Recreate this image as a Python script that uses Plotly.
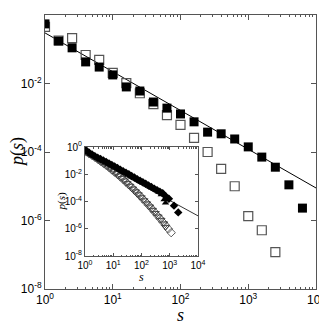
import plotly.graph_objects as go

# main panel: log-binned s, filled and open squares
s_main = [1, 1.585, 2.512, 3.981, 6.31, 10, 15.85, 25.12, 39.81, 63.1,
          100, 158.5, 251.2, 398.1, 631, 1000, 1585, 2512, 3981, 6310]
p_filled = [0.55, 0.174, 0.11, 0.0427, 0.0302, 0.0178, 0.00794, 0.00603, 0.00288, 0.00191,
            0.00129, 7.6e-4, 3.8e-4, 3.4e-4, 2.4e-4, 1.41e-4, 7.1e-5, 3.6e-5, 1.1e-5, 2.3e-6]
p_open = [0.45, 0.18, 0.21, 0.068, 0.049, 0.0204, 0.0102, 0.0052, 0.0025, 0.0012,
          6.2e-4, 2.6e-4, 1.0e-4, 3.2e-5, 1.0e-5, 1.35e-6, 5.2e-7, 1.2e-7]

# power-law guide line (endpoints)
s_line = [1, 10000]
p_line = [0.3, 8.9e-6]

# inset series
s_tri = [1, 1.26, 1.58, 2, 2.51, 3.16, 3.98, 5.01, 6.31, 7.94, 10, 12.6, 15.8, 20, 25.1,
         31.6, 39.8, 50.1, 63.1, 79.4, 100, 126, 158, 200, 251, 316, 398, 501, 631, 708]
p_tri_filled = [0.76, 0.45, 0.32, 0.24, 0.19, 0.14, 0.112, 0.089, 0.071, 0.054, 0.042, 0.032,
                0.025, 0.019, 0.014, 0.0112, 0.0085, 0.0063, 0.005, 0.0038, 0.0028, 0.0022,
                0.00166, 0.00126, 0.001, 7.1e-4, 5.2e-4, 3.2e-4, 1.4e-4, 7.9e-5]
s_dia = [1.12, 1.41, 1.78, 2.24, 2.82, 3.55, 4.47, 5.62, 7.08, 8.91, 11.2, 14.1, 17.8, 22.4,
         28.2, 35.5, 44.7, 56.2, 70.8, 89.1, 112, 141, 178, 224, 282, 355, 447, 562,
         708, 933, 1413, 1995]
p_dia_filled = [0.56, 0.38, 0.28, 0.21, 0.166, 0.132, 0.105, 0.079, 0.063, 0.048, 0.037, 0.0295,
                0.0219, 0.0166, 0.0132, 0.01, 0.0076, 0.0058, 0.0044, 0.0034, 0.0026, 0.002,
                0.0015, 0.00117, 8.9e-4, 6.9e-4, 5.2e-4, 4.0e-4, 2.5e-4, 1.6e-4, 5.0e-5, 1.6e-5]
p_tri_open = [0.5, 0.38, 0.28, 0.21, 0.15, 0.11, 0.078, 0.055, 0.038, 0.026, 0.018, 0.012,
              0.0079, 0.0053, 0.0034, 0.0022, 0.0014, 8.7e-4, 5.4e-4, 3.3e-4, 2.0e-4, 1.2e-4,
              7.1e-5, 4.2e-5, 2.4e-5, 1.4e-5, 7.8e-6, 4.4e-6, 2.4e-6, 1.3e-6]
s_dia_open = [1.12, 1.41, 1.78, 2.24, 2.82, 3.55, 4.47, 5.62, 7.08, 8.91, 11.2, 14.1, 17.8,
              22.4, 28.2, 35.5, 44.7, 56.2, 70.8, 89.1, 112, 141, 178, 224, 282, 355, 447,
              562, 708, 891, 1122]
p_dia_open = [0.44, 0.32, 0.24, 0.178, 0.129, 0.091, 0.065, 0.046, 0.032, 0.021, 0.0145, 0.0098,
              0.0065, 0.0042, 0.0027, 0.0017, 0.0011, 6.8e-4, 4.2e-4, 2.6e-4, 1.55e-4, 9.3e-5,
              5.4e-5, 3.2e-5, 1.8e-5, 1.0e-5, 5.8e-6, 3.2e-6, 1.8e-6, 9.8e-7, 5.2e-7]

x_ticks = [1, 10, 100, 1000, 10000]
x_ticktext = ['10<sup>0</sup>', '10<sup>1</sup>', '10<sup>2</sup>', '10<sup>3</sup>', '10<sup>4</sup>']
y_ticks = [1, 1e-2, 1e-4, 1e-6, 1e-8]
y_ticktext = ['10<sup>0</sup>', '10<sup>-2</sup>', '10<sup>-4</sup>', '10<sup>-6</sup>', '10<sup>-8</sup>']
x_minor = [m * 10 ** k for k in range(4) for m in range(2, 10)]

fig = go.Figure()

fig.add_trace(go.Scatter(x=s_line, y=p_line, mode='lines', line=dict(color='black', width=1)))
fig.add_trace(go.Scatter(x=s_main[:len(p_open)], y=p_open, mode='markers',
                         marker=dict(symbol='square-open', size=9, color='#555',
                                     line=dict(width=1.2, color='#555'))))
fig.add_trace(go.Scatter(x=s_main, y=p_filled, mode='markers',
                         marker=dict(symbol='square', size=9, color='black')))

# inset
fig.add_trace(go.Scatter(x=s_line, y=p_line, mode='lines', line=dict(color='black', width=0.8),
                         xaxis='x2', yaxis='y2'))
fig.add_trace(go.Scatter(x=s_tri, y=p_tri_open, mode='markers', xaxis='x2', yaxis='y2',
                         marker=dict(symbol='triangle-down-open', size=6.5, color='#333',
                                     line=dict(width=0.8, color='#333'))))
fig.add_trace(go.Scatter(x=s_dia_open, y=p_dia_open, mode='markers', xaxis='x2', yaxis='y2',
                         marker=dict(symbol='diamond-open', size=6.5, color='#333',
                                     line=dict(width=0.8, color='#333'))))
fig.add_trace(go.Scatter(x=s_tri, y=p_tri_filled, mode='markers', xaxis='x2', yaxis='y2',
                         marker=dict(symbol='triangle-up', size=6.5, color='black')))
fig.add_trace(go.Scatter(x=s_dia, y=p_dia_filled, mode='markers', xaxis='x2', yaxis='y2',
                         marker=dict(symbol='diamond', size=6.5, color='black')))

axis_common = dict(type='log', showline=True, linecolor='#555', linewidth=1, mirror='allticks',
                   ticks='inside', tickcolor='#555', showgrid=False, zeroline=False,
                   automargin=False)

serif = 'Liberation Serif, serif'

# page body has an 8px margin, so the margins are shifted to land where the reference has them
fig.update_layout(
    width=327, height=327,
    margin=dict(l=37, r=19, t=7, b=46),
    paper_bgcolor='white', plot_bgcolor='white',
    showlegend=False,
    font=dict(family='Liberation Sans, Arial, sans-serif', color='black', size=12),
    xaxis=dict(axis_common, range=[0, 4], tickvals=x_ticks, ticktext=x_ticktext, ticklen=5,
               minor=dict(ticks='inside', ticklen=2, tickvals=x_minor, tickcolor='#555')),
    yaxis=dict(axis_common, range=[-8, 0], tickvals=y_ticks, ticktext=y_ticktext, ticklen=5),
    xaxis2=dict(axis_common, range=[0, 4], domain=[0.1476, 0.5646], anchor='y2',
                tickvals=x_ticks, ticktext=x_ticktext, ticklen=3, tickfont=dict(size=10),
                minor=dict(ticks='inside', ticklen=1.5, tickvals=x_minor, tickcolor='#555')),
    yaxis2=dict(axis_common, range=[-8, 0], domain=[0.1204, 0.518], anchor='x2',
                tickvals=y_ticks, ticktext=y_ticktext, ticklen=3, tickfont=dict(size=10)),
    annotations=[
        dict(text='<i>p</i>(<i>s</i>)', xref='paper', yref='paper', x=0, y=0.5, xshift=-28,
             xanchor='center', yanchor='middle', textangle=-90, showarrow=False,
             font=dict(family=serif, size=18)),
        dict(text='<i>s</i>', xref='paper', yref='paper', x=0.5, y=0, yshift=-26,
             xanchor='center', yanchor='middle', showarrow=False,
             font=dict(family=serif, size=18)),
        dict(text='<i>p</i>(<i>s</i>)', xref='x2 domain', yref='y2 domain', x=0, y=0.5,
             xshift=-23, xanchor='center', yanchor='middle', textangle=-90, showarrow=False,
             font=dict(family=serif, size=11)),
        dict(text='<i>s</i>', xref='x2 domain', yref='y2 domain', x=0.5, y=0, yshift=-21,
             xanchor='center', yanchor='middle', showarrow=False,
             font=dict(family=serif, size=12)),
    ],
)

fig.write_html("out.html")
